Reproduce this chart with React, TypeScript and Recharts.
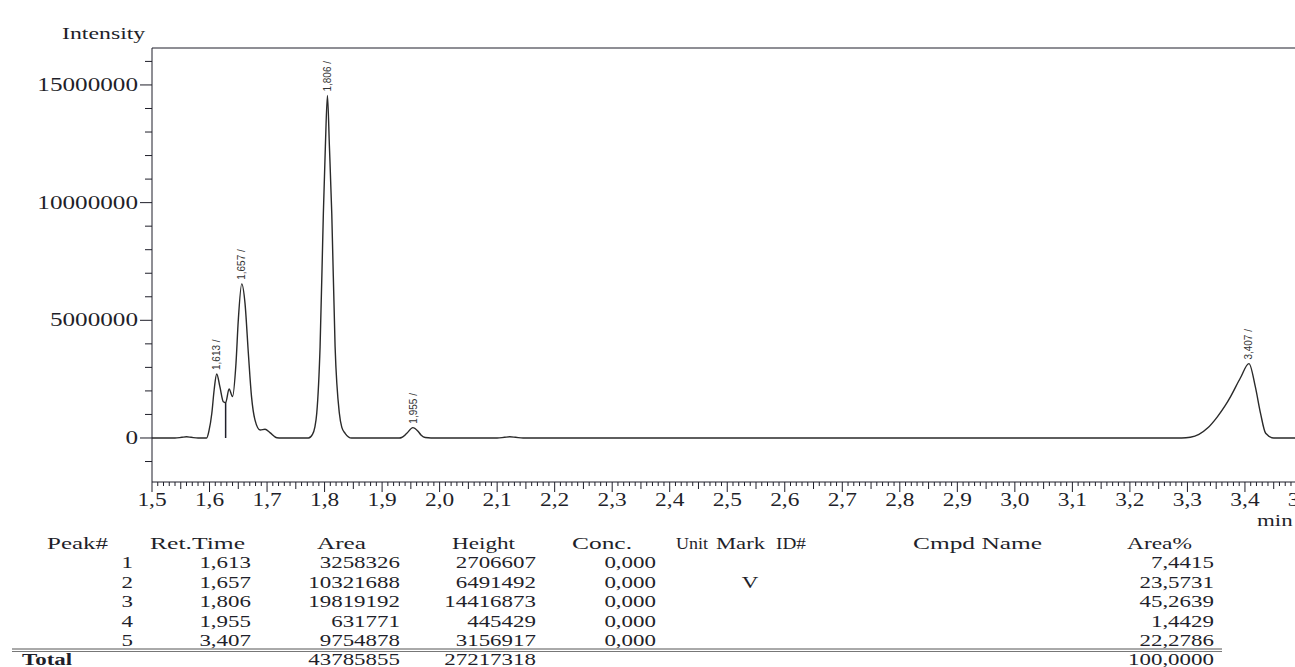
import React from "react";
import {
  ComposedChart,
  Line,
  Scatter,
  XAxis,
  YAxis,
  ReferenceLine,
} from "recharts";

// ─── Data ───────────────────────────────────────────────────────────

// retention time (min) of each trace point
const traceTime = [
  1.5, 1.54, 1.552, 1.56, 1.568, 1.58, 1.595, 1.599, 1.604, 1.608, 1.6125,
  1.618, 1.624, 1.628, 1.634, 1.64, 1.646, 1.65, 1.656, 1.6617, 1.6675, 1.673,
  1.679, 1.688, 1.6965, 1.705, 1.717, 1.725, 1.772, 1.779, 1.783, 1.7864,
  1.7922, 1.7979, 1.8014, 1.805, 1.8084, 1.8125, 1.8183, 1.8257, 1.83, 1.8357,
  1.847, 1.93, 1.934, 1.943, 1.9534, 1.962, 1.968, 1.975, 1.985, 2.1, 2.113,
  2.122, 2.132, 2.145, 3.29, 3.305, 3.32, 3.335, 3.352, 3.365, 3.375, 3.392,
  3.407, 3.418, 3.427, 3.436, 3.45, 3.6,
];

// detector intensity at each point
const traceIntensity = [
  0, 0, 30000, 50000, 30000, 0, 0, 300000, 1050000, 2040000, 2720000,
  2180000, 1540000, 1500000, 2080000, 1760000, 3170000, 5000000, 6550000,
  5720000, 3600000, 1760000, 770000, 340000, 370000, 230000, 10000, 0, 0,
  150000, 450000, 1050000, 3880000, 9550000, 12400000, 14550000, 12400000,
  9550000, 3880000, 1050000, 450000, 200000, 0, 0, 20000, 200000, 440000,
  300000, 120000, 20000, 0, 0, 30000, 50000, 30000, 0, 0, 30000, 150000,
  420000, 900000, 1350000, 1760000, 2550000, 3160000, 2180000, 1060000,
  200000, 0, 0,
];

// peak table
const peakNo = [1, 2, 3, 4, 5];
const retTime = [1.613, 1.657, 1.806, 1.955, 3.407];
const peakArea = [3258326, 10321688, 19819192, 631771, 9754878];
const peakHeight = [2706607, 6491492, 14416873, 445429, 3156917];
const peakConc = [0, 0, 0, 0, 0];
const peakMark = ["", "V", "", "", ""];
const areaPct = [7.4415, 23.5731, 45.2639, 1.4429, 22.2786];
const totalArea = 43785855;
const totalHeight = 27217318;
const totalPct = 100;

const tableHeaders = [
  "Peak#",
  "Ret.Time",
  "Area",
  "Height",
  "Conc.",
  "Unit",
  "Mark",
  "ID#",
  "Cmpd Name",
  "Area%",
];

// axis ticks
const yMajorTicks = [0, 5000000, 10000000, 15000000];
const yMinorTicks = [
  -1000000, 0, 1000000, 2000000, 3000000, 4000000, 5000000, 6000000, 7000000,
  8000000, 9000000, 10000000, 11000000, 12000000, 13000000, 14000000,
  15000000, 16000000,
];
const xLabelTicks = [
  1.5, 1.6, 1.7, 1.8, 1.9, 2.0, 2.1, 2.2, 2.3, 2.4, 2.5, 2.6, 2.7, 2.8, 2.9,
  3.0, 3.1, 3.2, 3.3, 3.4, 3.5,
];
const xMinorTicks = Array.from({ length: 211 }, (_, i) => (150 + i) / 100);

// valley drop line between peak 1 and 2
const dropTime = 1.628;
const dropHeight = 1500000;

const X_MIN = 1.5;
const X_MAX = 3.6;
const Y_MIN = -1870000;
const Y_MAX = 16570000;

const SERIF = "'Liberation Serif', 'Times New Roman', serif";
const INK = "#1f1f2a";

// header placement: left x and rendered width
const headerX = [47, 150, 317, 452, 572, 676, 716, 776, 913, 1127];
const headerW = [61, 95, 49, 63, 60, 32, 49, 30, 129, 65];

const fmt = (n: number, d: number) => n.toFixed(d).replace(".", ",");

// ─── Ticks ──────────────────────────────────────────────────────────

function YTick(props: any) {
  const { x, y, payload } = props;
  const major = yMajorTicks.includes(payload.value);
  return (
    <g>
      <line x1={x - (major ? 12 : 7)} x2={x} y1={y} y2={y} stroke={INK} />
      {major && (
        <text
          transform={`translate(${x - 14},${y + 6}) scale(1.4,1)`}
          textAnchor="end"
          fontFamily={SERIF}
          fontSize={18}
          fill={INK}
        >
          {payload.value}
        </text>
      )}
    </g>
  );
}

function XTick(props: any) {
  const { x, y, payload } = props;
  const k = Math.round(payload.value * 100);
  const labelled = xLabelTicks.some((v) => Math.round(v * 100) === k);
  const len = labelled ? 10 : k % 5 === 0 ? 7 : 4;
  return (
    <g>
      <line x1={x} x2={x} y1={y} y2={y + len} stroke={INK} />
      {labelled && (
        <text
          transform={`translate(${x},${y + 24}) scale(1.3,1)`}
          textAnchor="middle"
          fontFamily={SERIF}
          fontSize={18}
          fill={INK}
        >
          {fmt(k / 100, 1)}
        </text>
      )}
    </g>
  );
}

function PeakLabel(props: any) {
  const { cx, cy, payload } = props;
  return (
    <text
      transform={`translate(${cx + 3},${cy - 4}) rotate(-90)`}
      fontFamily="'Liberation Sans', Arial, sans-serif"
      fontSize={10}
      fill="#333"
    >
      {fmt(payload.t, 3)} /
    </text>
  );
}

// ─── Table text helper ──────────────────────────────────────────────

function Cell({
  x,
  y,
  anchor = "end",
  bold = false,
  children,
}: {
  x: number;
  y: number;
  anchor?: "start" | "middle" | "end";
  bold?: boolean;
  children: React.ReactNode;
}) {
  return (
    <text
      transform={`translate(${x},${y}) scale(1.35,1)`}
      textAnchor={anchor}
      fontFamily={SERIF}
      fontSize={17}
      fontWeight={bold ? 700 : 400}
      fill={INK}
    >
      {children}
    </text>
  );
}

// ─── App ────────────────────────────────────────────────────────────

export default function App() {
  const trace = traceTime.map((t, i) => ({ t, v: traceIntensity[i] }));

  // label sits on the drawn apex near each retention time
  const peakLabels = retTime.map((t, i) => {
    const near = trace.filter((p) => Math.abs(p.t - t) < 0.012);
    const apex = near.length ? Math.max(...near.map((p) => p.v)) : peakHeight[i];
    return { t, v: apex };
  });

  const rowY = [568, 587.5, 607, 626.5, 646];
  const headY = 549;
  const totalY = 665;

  return (
    <div
      style={{
        position: "absolute",
        left: 0,
        top: 0,
        width: 1295,
        height: 667,
        overflow: "hidden",
        background: "#fff",
      }}
    >
      <ComposedChart
        width={1360}
        height={540}
        data={trace}
        margin={{ top: 48, right: 0, bottom: 0, left: 0 }}
      >
        <XAxis
          dataKey="t"
          type="number"
          domain={[X_MIN, X_MAX]}
          allowDataOverflow
          ticks={xMinorTicks}
          interval={0}
          tickSize={0}
          tickMargin={0}
          tickLine={false}
          tick={<XTick />}
          height={58}
          axisLine={{ stroke: INK }}
        />
        <YAxis
          type="number"
          domain={[Y_MIN, Y_MAX]}
          allowDataOverflow
          ticks={yMinorTicks}
          interval={0}
          tickSize={0}
          tickMargin={0}
          tickLine={false}
          tick={<YTick />}
          width={152}
          axisLine={{ stroke: INK }}
        />
        <ReferenceLine y={Y_MAX} stroke={INK} ifOverflow="visible" />
        <ReferenceLine
          segment={[
            { x: dropTime, y: 0 },
            { x: dropTime, y: dropHeight },
          ]}
          stroke={INK}
          strokeWidth={1.5}
        />
        <Line
          type="monotone"
          dataKey="v"
          stroke="#2a2a2a"
          strokeWidth={1.4}
          dot={false}
          activeDot={false}
          isAnimationActive={false}
        />
        <Scatter
          data={peakLabels}
          dataKey="v"
          shape={<PeakLabel />}
          isAnimationActive={false}
        />
      </ComposedChart>

      <svg
        width={1295}
        height={667}
        style={{ position: "absolute", left: 0, top: 0, pointerEvents: "none" }}
      >
        <text
          transform="translate(62,39) scale(1.4,1)"
          fontFamily={SERIF}
          fontSize={17}
          fill={INK}
        >
          Intensity
        </text>
        <text
          transform="translate(1257,526) scale(1.35,1)"
          fontFamily={SERIF}
          fontSize={17}
          fill={INK}
        >
          min
        </text>

        {/* header */}
        {tableHeaders.map((h, i) => (
          <text
            key={h}
            x={headerX[i]}
            y={headY}
            textLength={headerW[i]}
            lengthAdjust="spacingAndGlyphs"
            fontFamily={SERIF}
            fontSize={17}
            fill={INK}
          >
            {h}
          </text>
        ))}

        {/* rows */}
        {peakNo.map((n, i) => (
          <g key={n}>
            <Cell x={133} y={rowY[i]}>{n}</Cell>
            <Cell x={251} y={rowY[i]}>{fmt(retTime[i], 3)}</Cell>
            <Cell x={400} y={rowY[i]}>{peakArea[i]}</Cell>
            <Cell x={536} y={rowY[i]}>{peakHeight[i]}</Cell>
            <Cell x={656} y={rowY[i]}>{fmt(peakConc[i], 3)}</Cell>
            <Cell x={750} y={rowY[i]} anchor="middle">{peakMark[i]}</Cell>
            <Cell x={1214} y={rowY[i]}>{fmt(areaPct[i], 4)}</Cell>
          </g>
        ))}

        <line x1={12} x2={1222} y1={649} y2={649} stroke="#555" />
        <line x1={12} x2={1222} y1={651.5} y2={651.5} stroke="#777" />

        <Cell x={22} y={totalY} anchor="start" bold>Total</Cell>
        <Cell x={400} y={totalY}>{totalArea}</Cell>
        <Cell x={536} y={totalY}>{totalHeight}</Cell>
        <Cell x={1214} y={totalY}>{fmt(totalPct, 4)}</Cell>
      </svg>
    </div>
  );
}
